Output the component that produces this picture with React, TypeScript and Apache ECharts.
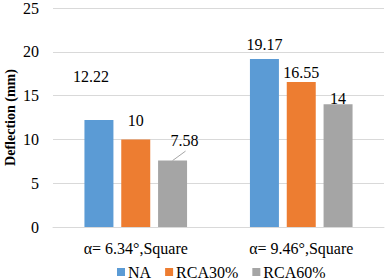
import React, { useEffect, useRef } from "react";
import * as echarts from "echarts";

const categories = ["α= 6.34°,Square", "α= 9.46°,Square"];
const seriesNames = ["NA", "RCA30%", "RCA60%"];
const naValues = [12.22, 19.17];
const rca30Values = [10, 16.55];
const rca60Values = [7.58, 14];
const yTicks = { min: 0, max: 25, interval: 5 };

const colors = ["#5B9BD5", "#ED7D31", "#A5A5A5"];
// label displacement (dx, dy) per series per category
const labelShifts = [
  [[-8, -30], [0, -2]],
  [[0, -6], [0, 3]],
  [[12, -7], [0, 7]],
];

const FONT = "serif";
const FS = 16;

export default function App() {
  const ref = useRef<HTMLDivElement>(null);
  useEffect(() => {
    if (!ref.current) return;
    const chart = echarts.init(ref.current, null, { renderer: "svg" });
    const all = [naValues, rca30Values, rca60Values];
    chart.setOption({
      animation: false,
      textStyle: { fontFamily: FONT },
      grid: { left: 53, right: 2, top: 8, bottom: 53, containLabel: false, outerBoundsMode: "none" },
      legend: {
        left: 112,
        top: 259,
        itemWidth: 8,
        itemHeight: 8,
        itemGap: 14,
        icon: "rect",
        textStyle: { fontFamily: FONT, fontSize: FS, color: "#000", padding: [0, 0, 0, -2] },
        data: seriesNames,
      },
      xAxis: {
        type: "category",
        data: categories,
        axisLine: { lineStyle: { color: "#D9D9D9" } },
        axisTick: { show: false },
        axisLabel: { fontFamily: FONT, fontSize: FS, color: "#000", margin: 13 },
      },
      yAxis: {
        type: "value",
        min: yTicks.min,
        max: yTicks.max,
        interval: yTicks.interval,
        name: "Deflection (mm)",
        nameLocation: "middle",
        nameGap: 36,
        nameMoveOverlap: false,
        nameTextStyle: { fontFamily: FONT, fontSize: 14, fontWeight: "bold", color: "#000" },
        axisLine: { show: false },
        axisTick: { show: false },
        axisLabel: { fontFamily: FONT, fontSize: FS, color: "#000", margin: 14 },
        splitLine: { lineStyle: { color: "#D9D9D9" } },
      },
      series: all.map((vals, si) => ({
        name: seriesNames[si],
        type: "bar",
        data: vals,
        barGap: "27%",
        barCategoryGap: "38%",
        itemStyle: { color: colors[si] },
        label: {
          show: true,
          position: "top",
          distance: 5,
          fontFamily: FONT,
          fontSize: FS,
          color: "#000",
        },
        labelLayout: (p: any) => ({ dx: labelShifts[si][p.dataIndex][0], dy: labelShifts[si][p.dataIndex][1] }),
      })),
    });
    // leader line for the displaced 7.58 label, positioned from the bar's own layout
    try {
      const model: any = (chart as any).getModel();
      const lay = model.getSeriesByIndex(2).getData().getItemLayout(0);
      const topPx = chart.convertToPixel({ gridIndex: 0 } as any, [0, rca60Values[0]]) as any;
      const top = topPx[1];
      const cx = lay.x + lay.width / 2;
      const [dx] = labelShifts[2][0];
      chart.setOption({
        graphic: [
          {
            type: "line",
            z: 100,
            shape: { x1: cx, y1: top, x2: cx + dx + 1, y2: top - 9.5 },
            style: { stroke: "#A6A6A6", lineWidth: 1 },
            silent: true,
          },
        ],
      });
    } catch (e) {}
    return () => chart.dispose();
  }, []);
  return <div ref={ref} style={{ width: 386, height: 280, position: "absolute", left: 0, top: 0 }} />;
}
